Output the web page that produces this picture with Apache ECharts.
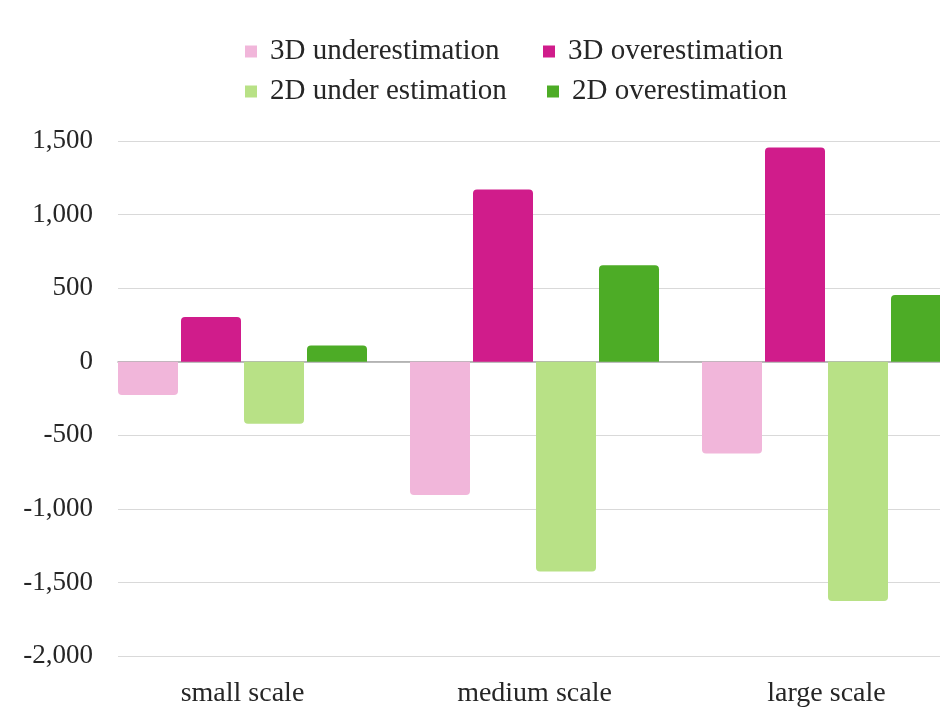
<!DOCTYPE html>
<html>
<head>
<meta charset="utf-8">
<script src="https://cdn.jsdelivr.net/npm/echarts@6/dist/echarts.min.js"></script>
<style>html,body{margin:0;padding:0;background:#fff;}#chart{width:940px;height:708px;}</style>
</head>
<body>
<div id="chart"></div>
<script>
const categories = ['small scale', 'medium scale', 'large scale'];
const seriesNames = ['3D underestimation', '3D overestimation', '2D under estimation', '2D overestimation'];
const under3D = [-226, -905, -624];
const over3D = [304, 1170, 1455];
const under2D = [-421, -1425, -1626];
const over2D = [111, 656, 453];
const colors = ['#F1B6DA', '#D01C8B', '#B8E186', '#4DAC26'];
const yMin = -2000, yMax = 1500, yInterval = 500;

const FONT = 'Liberation Serif';
const chart = echarts.init(document.getElementById('chart'));

function mkData(arr) {
  return arr.map(v => ({
    value: v,
    itemStyle: { borderRadius: v < 0 ? [0, 0, 4, 4] : [4, 4, 0, 0] }
  }));
}
const allValues = [under3D, over3D, under2D, over2D];
const legendPos = [
  { left: 240, top: 32 },
  { left: 538, top: 32 },
  { left: 240, top: 72 },
  { left: 542, top: 72 }
];

const option = {
  backgroundColor: '#fff',
  animation: false,
  legend: seriesNames.map((n, i) => ({
    data: [n],
    left: legendPos[i].left,
    top: legendPos[i].top,
    itemWidth: 12,
    itemHeight: 12,
    icon: 'rect',
    textStyle: { fontFamily: FONT, fontSize: 29, color: '#262626', padding: [0, 0, 0, 8] }
  })),
  grid: [
    { left: 242.5, top: 141, width: 584, height: 515 },
    { left: 118, top: 141, right: 0, height: 515 }
  ],
  xAxis: [
    {
      type: 'category', gridIndex: 0, data: categories, boundaryGap: false,
      axisLine: { show: false }, axisTick: { show: false },
      axisLabel: { fontFamily: FONT, fontSize: 28, color: '#262626', margin: 24 }
    },
    {
      type: 'value', gridIndex: 1, min: 0, max: 1,
      axisLine: { show: true, onZero: true, lineStyle: { color: '#a6a6a6', width: 1.5 } },
      axisTick: { show: false }, axisLabel: { show: false }, splitLine: { show: false }
    }
  ],
  yAxis: [
    { type: 'value', gridIndex: 0, min: yMin, max: yMax, interval: yInterval, show: false, splitLine: { show: false } },
    {
      type: 'value', gridIndex: 1, min: yMin, max: yMax, interval: yInterval,
      axisLine: { show: false }, axisTick: { show: false },
      axisLabel: {
        fontFamily: FONT, fontSize: 27, color: '#262626', margin: 25,
        formatter: v => v.toLocaleString('en-US')
      },
      splitLine: { lineStyle: { color: '#d9d9d9', width: 1 } }
    }
  ],
  series: seriesNames.map((n, i) => ({
    name: n,
    type: 'bar',
    xAxisIndex: 0,
    yAxisIndex: 0,
    data: mkData(allValues[i]),
    itemStyle: { color: colors[i] },
    barWidth: 60,
    barGap: '5%',
    clip: false,
    z: 1
  }))
};
chart.setOption(option);
</script>
</body>
</html>
